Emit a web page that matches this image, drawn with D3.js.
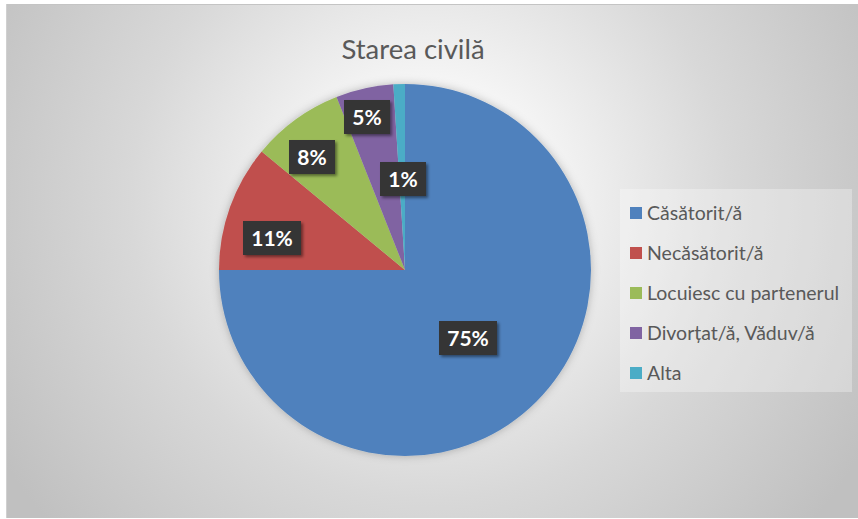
<!DOCTYPE html>
<html><head><meta charset="utf-8">
<script src="https://cdn.jsdelivr.net/npm/d3@7"></script>
<style>body{margin:0;background:#fff}svg{display:block}</style>
</head><body>
<script>
const categories = ["Căsătorit/ă","Necăsătorit/ă","Locuiesc cu partenerul","Divorțat/ă, Văduv/ă","Alta"];
const values = [75, 11, 8, 5, 1];
const labels = ["75%","11%","8%","5%","1%"];
const colors = ["#4F81BD","#C0504D","#9BBB59","#8064A2","#4BACC6"];
const title = "Starea civilă";

const W = 858, H = 519;
const svg = d3.select("body").append("svg").attr("width", W).attr("height", H);
const defs = svg.append("defs");
const grad = defs.append("radialGradient").attr("id","bg").attr("gradientUnits","userSpaceOnUse")
  .attr("cx", 430).attr("cy", 200).attr("r", 500);
grad.append("stop").attr("offset","0%").attr("stop-color","#ffffff");
grad.append("stop").attr("offset","20%").attr("stop-color","#f8f8f8");
grad.append("stop").attr("offset","60%").attr("stop-color","#d8d8d8");
grad.append("stop").attr("offset","100%").attr("stop-color","#c0c0c0");
const sh = defs.append("filter").attr("id","sh").attr("x","-30%").attr("y","-30%").attr("width","160%").attr("height","160%");
sh.append("feDropShadow").attr("dx",2).attr("dy",2).attr("stdDeviation",1.5).attr("flood-color","#000").attr("flood-opacity",0.45);
const glow = defs.append("filter").attr("id","glow").attr("x","-20%").attr("y","-20%").attr("width","140%").attr("height","140%");
glow.append("feDropShadow").attr("dx",0).attr("dy",0).attr("stdDeviation",4).attr("flood-color","#000").attr("flood-opacity",0.25);

svg.append("rect").attr("x",6).attr("y",4).attr("width",W-6).attr("height",514).attr("fill","url(#bg)");
svg.append("line").attr("x1",6).attr("x2",W).attr("y1",4.5).attr("y2",4.5).attr("stroke","#c4c4c4");
svg.append("line").attr("x1",6.5).attr("x2",6.5).attr("y1",4).attr("y2",518).attr("stroke","#d0d0d0");

svg.append("text").attr("x",413).attr("y",59).attr("text-anchor","middle")
  .attr("font-family","Lato, 'Open Sans', sans-serif").attr("font-size",27.5).attr("fill","#595959").text(title);

const cx = 405, cy = 270, R = 186;
const pie = d3.pie().sort(null).value(d => d)(values);
const arc = d3.arc().innerRadius(0).outerRadius(R);
const g = svg.append("g").attr("transform",`translate(${cx},${cy})`);
g.append("g").attr("filter","url(#glow)").selectAll("path").data(pie).join("path")
  .attr("d", arc).attr("fill",(d,i)=>colors[i]).attr("stroke","none");

const labelPos = [[63,68],[-133,-32],[-93,-113],[-38,-153],[-2,-91]];
labelPos.forEach((p,i)=>{
  const w = labels[i].length===3 ? 58 : 46, h = 34;
  const lg = g.append("g").attr("transform",`translate(${p[0]},${p[1]})`);
  lg.append("rect").attr("x",-w/2).attr("y",-h/2).attr("width",w).attr("height",h)
    .attr("fill","#363636").attr("filter","url(#sh)");
  lg.append("text").attr("text-anchor","middle").attr("dy","0.36em")
    .attr("font-family","Lato, 'Open Sans', sans-serif").attr("font-weight","bold")
    .attr("font-size",21).attr("fill","#fff").text(labels[i]);
});

const leg = svg.append("g");
leg.append("rect").attr("x",620).attr("y",189).attr("width",232).attr("height",203).attr("fill","#ffffff").attr("opacity",0.3);
const ly = d3.scaleBand().domain(categories).range([193,393]);
categories.forEach((c,i)=>{
  const y = ly(c) + ly.bandwidth()/2;
  leg.append("rect").attr("x",630).attr("y",y-6).attr("width",12).attr("height",12).attr("fill",colors[i]);
  leg.append("text").attr("x",647).attr("y",y).attr("dy","0.35em")
    .attr("font-family","Lato, 'Open Sans', sans-serif").attr("font-size",19.5).attr("fill","#595959").text(c);
});
</script>
</body></html>
